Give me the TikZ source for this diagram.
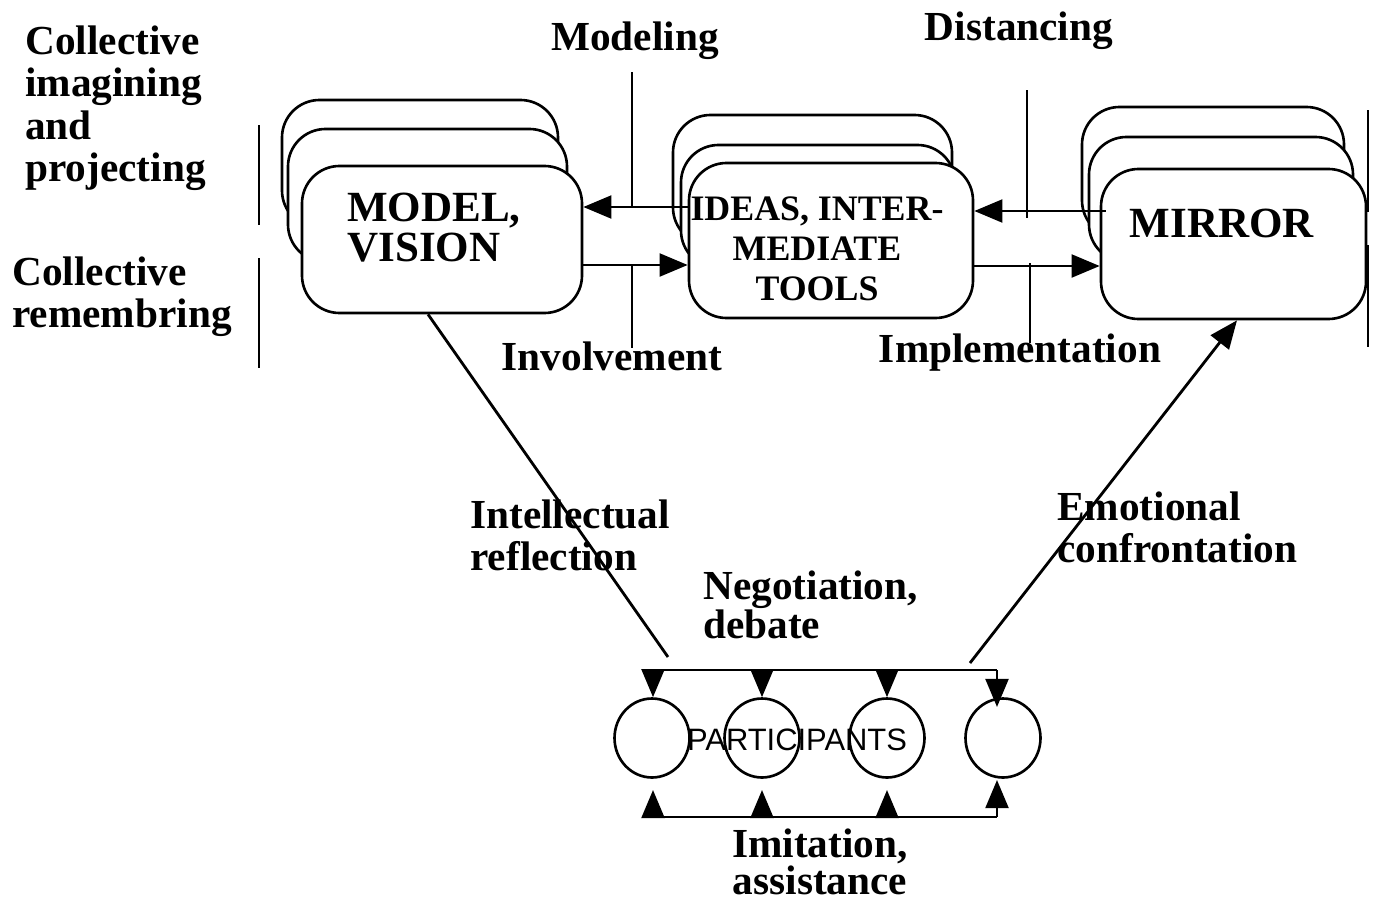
\documentclass[tikz,border=0pt]{standalone}
\usepackage{fontspec}
\setmainfont{Liberation Serif}
\newfontfamily\partfont{Liberation Sans}
\usetikzlibrary{arrows.meta,fit,shapes.geometric}
\begin{document}
\begin{tikzpicture}[x=0.02cm,y=-0.02cm,
  box/.style={draw, line width=1.5pt, fill=white, rounded corners=0.75cm, inner sep=0pt},
  lbl/.style={font=\bfseries\fontsize{23.5pt}{24.2pt}\selectfont, align=left, inner sep=0pt},
  big/.style={font=\bfseries\fontsize{24.5pt}{22.7pt}\selectfont, align=left, inner sep=0pt},
  mid/.style={font=\bfseries\fontsize{20.4pt}{23pt}\selectfont, align=center, inner sep=0pt},
  tight/.style={font=\bfseries\fontsize{23.5pt}{21.3pt}\selectfont, inner sep=0pt},
  arr/.style={line width=1.6pt, -{Triangle[length=16pt,width=13pt]}},
  ln/.style={line width=1.6pt},
  thin/.style={line width=0.6pt},
  bar/.style={line width=1.2pt},
  person/.style={draw, line width=1.5pt, ellipse, minimum width=1.5cm, minimum height=1.58cm, inner sep=0pt}
]
\useasboundingbox (0,0) rectangle (1373,903);

% stacked boxes
\node[box, fit={(282,100) (558,228)}] (modelA) {};
\node[box, fit={(288,129) (567,262)}] (modelB) {};
\node[box, fit={(302,166) (582,313)}] (modelF) {};
\node[box, fit={(673,115) (952,245)}] (ideasA) {};
\node[box, fit={(681,145) (955,268)}] (ideasB) {};
\node[box, fit={(689,163) (973,318)}] (ideasF) {};
\node[box, fit={(1082,107) (1344,238)}] (mirrorA) {};
\node[box, fit={(1089,137) (1353,262)}] (mirrorB) {};
\node[box, fit={(1101,169) (1366,319)}] (mirrorF) {};

% box texts
\node[big, anchor=north west] (tModel) at (347,193) {MODEL,\\VISION};
\node[mid, anchor=north] (tIdeas) at (817,196) {IDEAS, INTER-\\MEDIATE\\TOOLS};
\node[big, anchor=base] (tMirror) at (1222,237) {MIRROR};

% helper levels
\coordinate (yA) at (0,207);
\coordinate (yB) at (0,265);
\coordinate (yC) at (0,211);
\coordinate (yD) at (0,266);

% horizontal arrows
\draw[arr] (ideasF.west |- yA) -- (modelF.east |- yA);
\draw[arr] (modelF.east |- yB) -- (ideasF.west |- yB);
\draw[arr] ([xshift=6*0.02cm]mirrorF.west |- yC) -- (ideasF.east |- yC);
\draw[arr] (ideasF.east |- yD) -- (mirrorF.west |- yD);

% thin vertical separators
\coordinate (m1) at (632,72);  \coordinate (m2) at (632,207);
\coordinate (m3) at (632,265); \coordinate (m4) at (632,348);
\draw[thin] (m1) -- (m2);
\draw[thin] (m3) -- (m4);
\coordinate (d1) at (1027,90);  \coordinate (d2) at (1027,218);
\coordinate (d3) at (1030,263); \coordinate (d4) at (1030,343);
\draw[thin] (d1) -- (d2);
\draw[thin] (d3) -- (d4);

% side bars
\coordinate (l1) at (259,125); \coordinate (l2) at (259,225);
\coordinate (l3) at (259,258); \coordinate (l4) at (259,368);
\draw[bar] (l1) -- (l2);
\draw[bar] (l3) -- (l4);
\coordinate (r1) at (1368,110); \coordinate (r2) at (1368,212);
\coordinate (r3) at (1368,245); \coordinate (r4) at (1368,347);
\draw[bar] (r1) -- (r2);
\draw[bar] (r3) -- (r4);

% labels
\node[lbl, anchor=north west] (lImag) at (25,25) {Collective\\imagining\\and\\projecting};
\node[lbl, anchor=north west] (lRem) at (12,256) {Collective\\remembring};
\node[lbl, anchor=base] (lModeling) at (635,50) {Modeling};
\node[lbl, anchor=base] (lDist) at (1019,40) {Distancing};
\node[lbl, anchor=base] (lInv) at (612,370) {Involvement};
\node[lbl, anchor=base] (lImpl) at (1020,362) {Implementation};
\node[lbl, anchor=north west] (lIntel) at (470,499) {Intellectual\\reflection};
\node[lbl, anchor=north west] (lEmo) at (1057,491) {Emotional\\confrontation};
\node[tight, anchor=north west, align=left] (lNeg) at (703,570) {Negotiation,\\debate};
\node[tight, anchor=north, align=center] (lImit) at (820,828) {Imitation,\\assistance};

% participants
\node[person] (p1) at (652,738) {};
\node[person] (p2) at (762,738) {};
\node[person] (p3) at (887,738) {};
\node[person] (p4) at (1003,738) {};
\node[font=\partfont\fontsize{17.6pt}{17.6pt}\selectfont, inner sep=0pt] (tPart) at (797,740) {PARTICIPANTS};

% diagonals
\coordinate (xI) at (428,0);
\coordinate (eI) at (668,657);
\draw[ln] (modelF.south -| xI) -- (eI);
\coordinate (xE) at (1237,0);
\coordinate (sE) at (970,663);
\draw[arr] (sE) -- (mirrorF.south -| xE);

% top bus
\coordinate (topL) at (653,670);
\coordinate (topR) at (997,670);
\draw[ln] (topL) -- (topR);
\draw[arr] (topL) -- (p1.north -| topL);
\draw[arr] (p2.north |- topL) -- (p2.north);
\draw[arr] (p3.north |- topL) -- (p3.north);
\draw[arr] (topR) -- ++(0,37);

% bottom bus
\coordinate (botL) at (653,817);
\coordinate (botR) at (997,817);
\draw[ln] (botL) -- (botR);
\draw[arr] (botL) -- ++(0,-27);
\draw[arr] (p2.south |- botL) -- ++(0,-27);
\draw[arr] (p3.south |- botL) -- ++(0,-27);
\draw[arr] (botR) -- ++(0,-37);
\end{tikzpicture}
\end{document}
